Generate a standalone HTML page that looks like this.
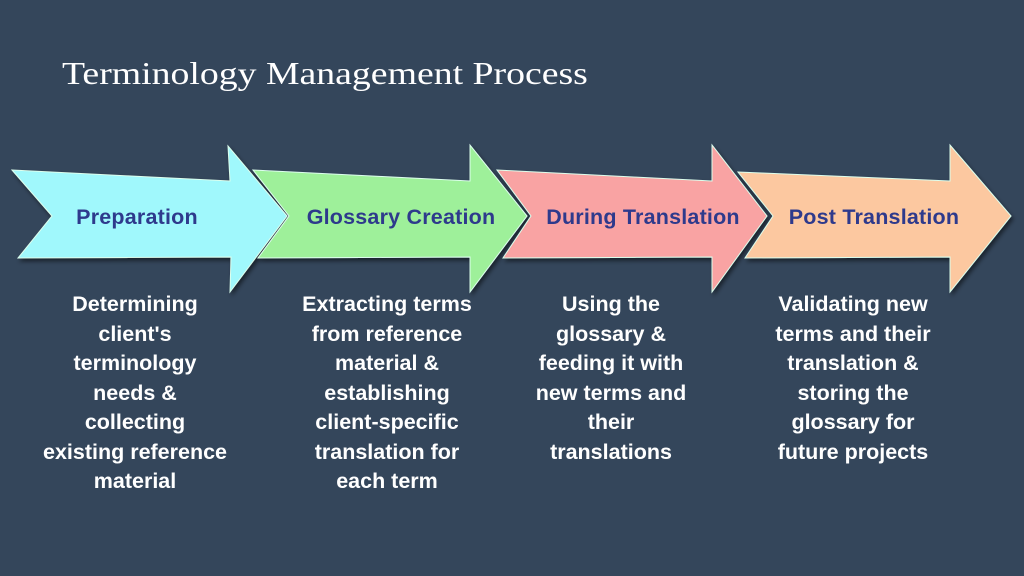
<!DOCTYPE html>
<html><head><style>
body{margin:0;width:1024px;height:576px;background:#34465b;overflow:hidden;font-family:"Liberation Sans",sans-serif;position:relative}
.t{position:absolute;left:62px;top:55px;color:#fff;font-family:"Liberation Serif",serif;font-size:32px;transform:scaleX(1.18);transform-origin:0 0;white-space:nowrap}
.d{position:absolute;top:290px;color:#fff;font-weight:bold;font-size:21.5px;line-height:29.5px;text-align:center;white-space:nowrap}
</style></head><body>
<div class="t">Terminology Management Process</div>
<svg width="1024" height="576" style="position:absolute;left:0;top:0">
<defs><filter id="s"><feDropShadow dx="2" dy="3" stdDeviation="2" flood-color="#000" flood-opacity="0.5"/></filter></defs>
<g filter="url(#s)" stroke="#dfe" stroke-width="1">
<polygon points="12,170 230,181 228,146 287,216 230,292 231,257 18,258 52,216" fill="#a0f8fc"/>
<polygon points="253,170 470,181 470,145 527,216 470,292 470,257 258,258 289,216" fill="#9ef09a"/>
<polygon points="497,170 712,181 712,145 767,216 712,292 712,257 503,258 531,216" fill="#f9a3a3"/>
<polygon points="738,172 950,181 950,145 1011,216 950,292 950,257 745,258 773,216" fill="#fcc8a0"/>
</g>
<g font-family="Liberation Sans,sans-serif" font-weight="bold" font-size="21.5" fill="#2e3a8c" text-anchor="middle" letter-spacing="0.2">
<text x="137" y="224">Preparation</text>
<text x="401" y="224">Glossary Creation</text>
<text x="643" y="224">During Translation</text>
<text x="874" y="224">Post Translation</text>
</g>
</svg>
<div class="d" style="left:20px;width:230px">Determining<br>client's<br>terminology<br>needs &amp;<br>collecting<br>existing reference<br>material</div>
<div class="d" style="left:277px;width:220px">Extracting terms<br>from reference<br>material &amp;<br>establishing<br>client-specific<br>translation for<br>each term</div>
<div class="d" style="left:511px;width:200px">Using the<br>glossary &amp;<br>feeding it with<br>new terms and<br>their<br>translations</div>
<div class="d" style="left:748px;width:210px">Validating new<br>terms and their<br>translation &amp;<br>storing the<br>glossary for<br>future projects</div>
</body></html>
